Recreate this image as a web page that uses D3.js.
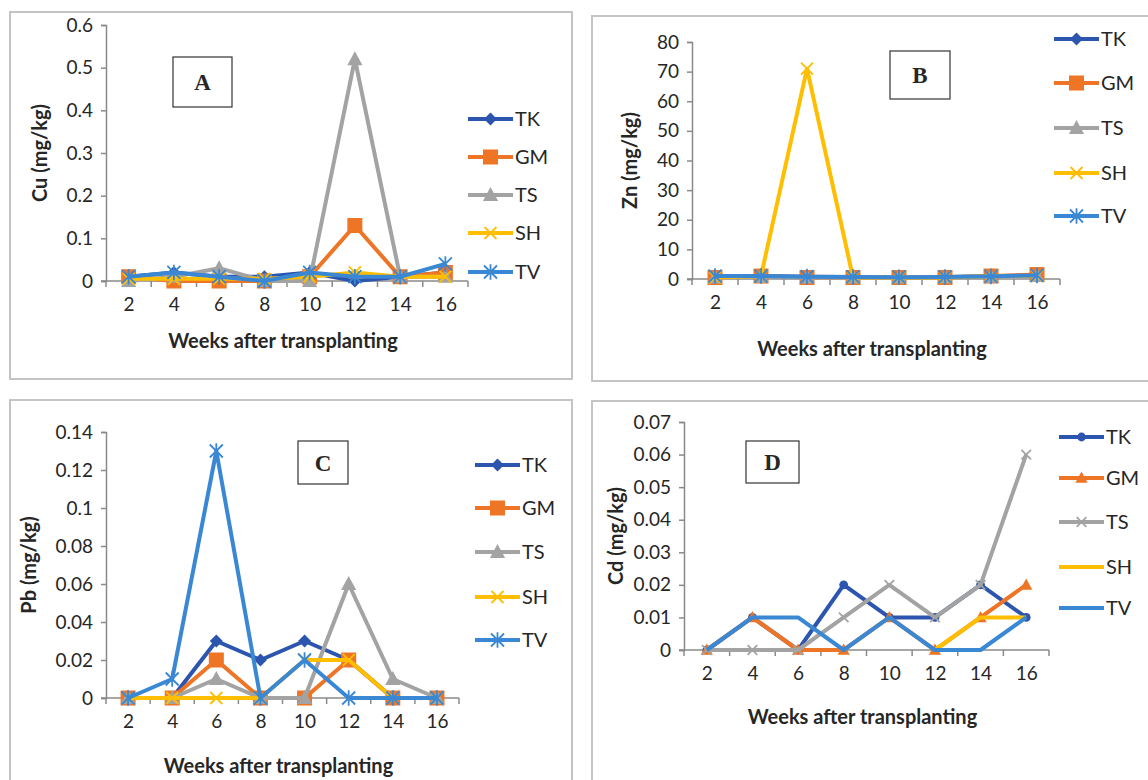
<!DOCTYPE html>
<html>
<head>
<meta charset="utf-8">
<script src="https://cdn.jsdelivr.net/npm/d3@7"></script>
<style>
  html, body { margin: 0; padding: 0; background: #fff; }
  svg { display: block; }
  text { font-family: Lato, "Open Sans", "Noto Sans", sans-serif; fill: #262626; }
</style>
</head>
<body>
<svg id="chart" width="1148" height="780"></svg>
<script>
// Sampling weeks (x categories)
const weeks = [2, 4, 6, 8, 10, 12, 14, 16];
const seriesNames = ["TK", "GM", "TS", "SH", "TV"];
const seriesColors = ["#2B55AE", "#EE7426", "#A3A3A3", "#FFBE00", "#3A88D4"];

// Panel A — Cu (mg/kg)
const cuTK = [0.01, 0.02, 0.01, 0.01, 0.02, 0.00, 0.01, 0.02];
const cuGM = [0.01, 0.00, 0.00, 0.00, 0.01, 0.13, 0.01, 0.02];
const cuTS = [0.00, 0.01, 0.03, 0.00, 0.00, 0.52, 0.01, 0.01];
const cuSH = [0.005, 0.005, 0.005, 0.005, 0.01, 0.02, 0.01, 0.01];
const cuTV = [0.01, 0.02, 0.01, 0.00, 0.02, 0.01, 0.01, 0.04];
const cuTicks = [0, 0.1, 0.2, 0.3, 0.4, 0.5, 0.6];

// Panel B — Zn (mg/kg)
const znTK = [1.0, 1.0, 0.8, 0.7, 0.6, 0.7, 0.9, 1.2];
const znGM = [0.5, 1.0, 0.5, 0.5, 0.5, 0.5, 1.0, 1.5];
const znTS = [0.5, 0.8, 0.5, 0.5, 0.5, 0.5, 0.8, 1.0];
const znSH = [0.5, 1.0, 71.0, 0.5, 0.5, 0.5, 1.0, 1.0];
const znTV = [1.0, 1.0, 0.8, 0.7, 0.6, 0.7, 0.9, 1.2];
const znTicks = [0, 10, 20, 30, 40, 50, 60, 70, 80];

// Panel C — Pb (mg/kg)
const pbTK = [0.00, 0.00, 0.03, 0.02, 0.03, 0.02, 0.00, 0.00];
const pbGM = [0.00, 0.00, 0.02, 0.00, 0.00, 0.02, 0.00, 0.00];
const pbTS = [0.00, 0.00, 0.01, 0.00, 0.00, 0.06, 0.01, 0.00];
const pbSH = [0.00, 0.00, 0.00, 0.00, 0.02, 0.02, 0.00, 0.00];
const pbTV = [0.00, 0.01, 0.13, 0.00, 0.02, 0.00, 0.00, 0.00];
const pbTicks = [0, 0.02, 0.04, 0.06, 0.08, 0.1, 0.12, 0.14];

// Panel D — Cd (mg/kg); null = not recorded
const cdTK = [0.00, 0.01, 0.00, 0.02, 0.01, 0.01, 0.02, 0.01];
const cdGM = [0.00, 0.01, 0.00, 0.00, 0.01, 0.00, 0.01, 0.02];
const cdTS = [0.00, 0.00, 0.00, 0.01, 0.02, 0.01, 0.02, 0.06];
const cdSH = [null, null, null, null, null, 0.00, 0.01, 0.01];
const cdTV = [0.00, 0.01, 0.01, 0.00, 0.01, 0.00, 0.00, 0.01];
const cdTicks = [0, 0.01, 0.02, 0.03, 0.04, 0.05, 0.06, 0.07];

const xTitle = "Weeks after transplanting";

const panels = [
  {
    tag: "A", yTitle: "Cu (mg/kg)", values: [cuTK, cuGM, cuTS, cuSH, cuTV], ticks: cuTicks,
    markers: ["diamond", "square", "triangle", "cross", "star"],
    frame: [10, 12, 562, 367], plot: [106, 468, 25, 281],
    legend: { x: 468, ys: [119, 157, 195, 233, 272] },
    tagBox: [173, 57, 59, 50], xTitleY: 348, yTitleX: 40
  },
  {
    tag: "B", yTitle: "Zn (mg/kg)", values: [znTK, znGM, znTS, znSH, znTV], ticks: znTicks,
    markers: ["diamond", "square", "triangle", "cross", "star"],
    frame: [592, 16, 570, 365], plot: [692, 1060, 42, 279],
    legend: { x: 1054, ys: [39, 83, 128, 173, 216] },
    tagBox: [890, 51, 60, 48], xTitleY: 356, yTitleX: 630
  },
  {
    tag: "C", yTitle: "Pb (mg/kg)", values: [pbTK, pbGM, pbTS, pbSH, pbTV], ticks: pbTicks,
    markers: ["diamond", "square", "triangle", "cross", "star"],
    frame: [10, 400, 562, 400], plot: [106, 459, 432, 698],
    legend: { x: 475, ys: [465, 508, 552, 597, 640] },
    tagBox: [298, 441, 50, 43], xTitleY: 773, yTitleX: 29
  },
  {
    tag: "D", yTitle: "Cd (mg/kg)", values: [cdTK, cdGM, cdTS, cdSH, cdTV], ticks: cdTicks,
    markers: ["circle", "triangle", "cross", "none", "none"],
    frame: [592, 401, 570, 400], plot: [684, 1049, 422, 650],
    legend: { x: 1059, ys: [437, 478, 522, 567, 608] },
    tagBox: [746, 441, 53, 42], xTitleY: 724, yTitleX: 616
  }
];

const svg = d3.select("#chart");
const axisColor = "#8A8A8A";

// Draws one marker symbol centred at (0,0)
function drawMarker(g, type, color, big) {
  const s = big ? 1 : 0.8;
  if (type === "diamond") {
    const r = 6.5 * s;
    g.append("path").attr("d", `M0,${-r}L${r},0L0,${r}L${-r},0Z`).attr("fill", color);
  } else if (type === "square") {
    const h = 7.5 * s;
    g.append("rect").attr("x", -h).attr("y", -h).attr("width", 2 * h).attr("height", 2 * h).attr("fill", color);
  } else if (type === "triangle") {
    const r = 8 * s;
    g.append("path").attr("d", `M0,${-r}L${r * 0.95},${r * 0.75}L${-r * 0.95},${r * 0.75}Z`).attr("fill", color);
  } else if (type === "circle") {
    g.append("circle").attr("r", 5.5 * s).attr("fill", color);
  } else if (type === "cross") {
    const r = 6 * s;
    g.append("path").attr("d", `M${-r},${-r}L${r},${r}M${-r},${r}L${r},${-r}`)
      .attr("stroke", color).attr("stroke-width", 1.8).attr("fill", "none");
  } else if (type === "star") {
    const r = 6.5 * s;
    g.append("path").attr("d", `M${-r},${-r}L${r},${r}M${-r},${r}L${r},${-r}M0,${-r * 1.2}L0,${r * 1.2}`)
      .attr("stroke", color).attr("stroke-width", 1.8).attr("fill", "none");
  }
}

panels.forEach(p => {
  const g = svg.append("g");
  const [fx, fy, fw, fh] = p.frame;
  g.append("rect").attr("x", fx).attr("y", fy).attr("width", fw).attr("height", fh)
    .attr("fill", "#fff").attr("stroke", "#C4C4C4").attr("stroke-width", 2);

  const [x0, x1, yTop, yBot] = p.plot;
  const band = d3.scaleBand().domain(weeks).range([x0, x1]);
  const x = w => band(w) + band.bandwidth() / 2;
  const yMax = p.ticks[p.ticks.length - 1];
  const y = d3.scaleLinear().domain([0, yMax]).range([yBot, yTop]);

  // y axis
  const fmt = v => String(+v.toFixed(3));
  const yAxis = g.append("g").attr("transform", `translate(${x0},0)`)
    .call(d3.axisLeft(y).tickValues(p.ticks).tickFormat(fmt).tickSize(5).tickPadding(8));
  yAxis.select(".domain").attr("stroke", axisColor).attr("stroke-width", 1.5);
  yAxis.selectAll(".tick line").attr("stroke", axisColor).attr("stroke-width", 1.5);
  yAxis.selectAll(".tick text").style("font-size", "19px").attr("fill", "#262626");

  // x axis: labels at category centres, tick marks between categories
  const xAxis = g.append("g").attr("transform", `translate(0,${yBot})`)
    .call(d3.axisBottom(d3.scalePoint().domain(weeks).range([x(weeks[0]), x(weeks[weeks.length - 1])]))
      .tickSize(0).tickPadding(17));
  xAxis.select(".domain").remove();
  xAxis.selectAll(".tick text").style("font-size", "19px").attr("fill", "#262626");
  const bounds = weeks.map(w => band(w)).concat([x1]);
  g.append("line").attr("x1", x0 - 5).attr("x2", x1).attr("y1", yBot).attr("y2", yBot)
    .attr("stroke", axisColor).attr("stroke-width", 1.5);
  g.selectAll(null).data(bounds).join("line")
    .attr("x1", d => d).attr("x2", d => d).attr("y1", yBot).attr("y2", yBot + 6)
    .attr("stroke", axisColor).attr("stroke-width", 1.5);

  // axis titles
  g.append("text").attr("x", (x0 + x1) / 2 - 4).attr("y", p.xTitleY).attr("text-anchor", "middle")
    .style("font-size", "20px").style("font-weight", "700").text(xTitle);
  g.append("text").attr("transform", `translate(${p.yTitleX},${(yTop + yBot) / 2}) rotate(-90)`)
    .attr("text-anchor", "middle").attr("dy", "0.35em")
    .style("font-size", "20px").style("font-weight", "700").text(p.yTitle);

  // series lines and markers
  const line = d3.line().defined(d => d != null).x((d, i) => x(weeks[i])).y(d => y(d));
  p.values.forEach((vals, si) => {
    const color = seriesColors[si];
    g.append("path").attr("d", line(vals)).attr("fill", "none").attr("stroke", color)
      .attr("stroke-width", 4).attr("stroke-linejoin", "round");
    vals.forEach((v, i) => {
      if (v == null) return;
      const m = g.append("g").attr("transform", `translate(${x(weeks[i])},${y(v)})`);
      drawMarker(m, p.markers[si], color, p.tag !== "D");
    });
  });

  // panel tag box
  const [bx, by, bw, bh] = p.tagBox;
  g.append("rect").attr("x", bx).attr("y", by).attr("width", bw).attr("height", bh)
    .attr("fill", "#fff").attr("stroke", "#333").attr("stroke-width", 1.2);
  g.append("text").attr("x", bx + bw / 2).attr("y", by + bh / 2).attr("dy", "0.35em")
    .attr("text-anchor", "middle").style("font-family", "'Liberation Serif', 'DejaVu Serif', serif")
    .style("font-size", "23px").style("font-weight", "700").attr("fill", "#111").text(p.tag);

  // legend
  seriesNames.forEach((name, si) => {
    const ly = p.legend.ys[si];
    const lx = p.legend.x;
    g.append("line").attr("x1", lx).attr("x2", lx + 45).attr("y1", ly).attr("y2", ly)
      .attr("stroke", seriesColors[si]).attr("stroke-width", 4);
    const m = g.append("g").attr("transform", `translate(${lx + 22.5},${ly})`);
    drawMarker(m, p.markers[si], seriesColors[si], p.tag !== "D");
    g.append("text").attr("x", lx + 47).attr("y", ly).attr("dy", "0.36em")
      .style("font-size", "20px").attr("fill", "#262626").text(name);
  });
});
</script>
</body>
</html>
